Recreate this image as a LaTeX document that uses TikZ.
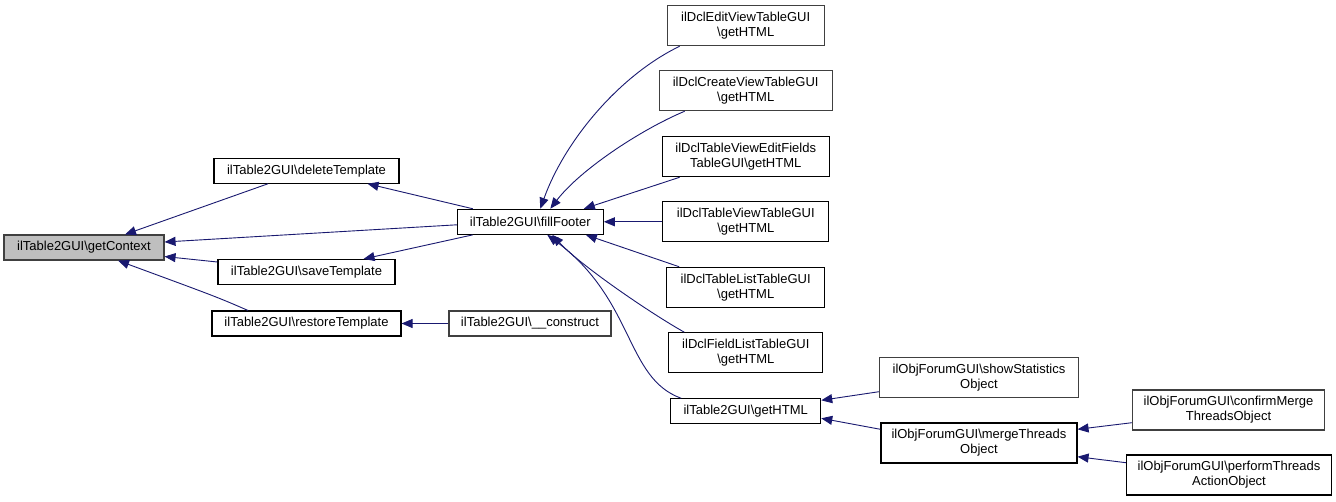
\documentclass[tikz,border=0pt]{standalone}
\usepackage{fontspec}
\setmainfont{Liberation Sans}
\usetikzlibrary{arrows.meta,calc}
\definecolor{edgeblue}{HTML}{191970}
\definecolor{nodegray}{HTML}{BFBFBF}
\definecolor{bordergray}{HTML}{404040}
\begin{document}
\begin{tikzpicture}[x=1pt,y=-1pt,
  box/.style={draw=black, line width=1.1pt, inner sep=0pt, align=center,
    font=\fontsize{13}{15}\selectfont, minimum height=25pt},
  gbox/.style={box, draw=bordergray},
  tall/.style={minimum height=40pt},
  edge/.style={draw=edgeblue, line width=0.9pt, -{Triangle[length=11pt,width=9pt]}},
]
\useasboundingbox (0,0) rectangle (1336,501);
\fill[white] (0,0) rectangle (1336,501);

% nodes
\node[gbox, fill=nodegray, minimum width=160pt] (gc) at (84,247.5) {ilTable2GUI\textbackslash getContext};
\node[box, minimum width=185pt] (del) at (306.5,170.7) {ilTable2GUI\textbackslash deleteTemplate};
\node[box, minimum width=177pt] (save) at (306.5,272) {ilTable2GUI\textbackslash saveTemplate};
\node[box, minimum width=189pt] (rest) at (306.5,323.5) {ilTable2GUI\textbackslash restoreTemplate};
\node[gbox, minimum width=162pt] (con) at (530,323.5) {ilTable2GUI\textbackslash\_\_construct};
\node[box, minimum width=146pt] (ff) at (530.3,221.8) {ilTable2GUI\textbackslash fillFooter};
\node[gbox, tall, minimum width=157pt] (edit) at (745.7,25.7) {ilDclEditViewTableGUI\\\textbackslash getHTML};
\node[gbox, tall, minimum width=173pt] (create) at (745.7,90.7) {ilDclCreateViewTableGUI\\\textbackslash getHTML};
\node[box, tall, minimum width=167pt] (tvef) at (745.7,156.7) {ilDclTableViewEditFields\\TableGUI\textbackslash getHTML};
\node[box, tall, minimum width=166pt] (tvt) at (745.8,221.8) {ilDclTableViewTableGUI\\\textbackslash getHTML};
\node[box, tall, minimum width=158pt] (tlist) at (745.7,287.3) {ilDclTableListTableGUI\\\textbackslash getHTML};
\node[box, tall, minimum width=154pt] (flist) at (745.8,352.7) {ilDclFieldListTableGUI\\\textbackslash getHTML};
\node[box, minimum width=150pt] (ghtml) at (745.7,411.3) {ilTable2GUI\textbackslash getHTML};
\node[gbox, tall, minimum width=199pt] (stat) at (979,377.7) {ilObjForumGUI\textbackslash showStatistics\\Object};
\node[box, tall, minimum width=196pt] (merge) at (979,443) {ilObjForumGUI\textbackslash mergeThreads\\Object};
\node[gbox, tall, minimum width=192pt] (confirm) at (1228.5,410) {ilObjForumGUI\textbackslash confirmMerge\\ThreadsObject};
\node[box, tall, minimum width=205pt] (perform) at (1229,475) {ilObjForumGUI\textbackslash performThreads\\ActionObject};

% edges
\draw[edge] ([xshift=-38.5pt]del.south) -- ([xshift=41pt]gc.north);
\draw[edge] ([yshift=-3pt]ff.west) -- ([yshift=5.5pt]gc.east);
\draw[edge] ([yshift=10pt]save.west) -- ([yshift=-9pt]gc.east);
\draw[edge] ([xshift=-58.5pt]rest.north) .. controls (217,297) .. ([xshift=34pt]gc.south);
\draw[edge] ([xshift=16pt]ff.north west) -- ([xshift=-32pt]del.south east);
\draw[edge] ([xshift=16pt]ff.south west) -- ([xshift=-32pt]save.north east);
\draw[edge] (con.west) -- (rest.east);
\draw[edge] ([xshift=13pt]edit.south west) .. controls (620,75) and (565,140) .. ([xshift=10pt]ff.north);
\draw[edge] ([xshift=26pt]create.south west) .. controls (640,130) and (580,170) .. ([xshift=20pt]ff.north);
\draw[edge] ([xshift=18pt]tvef.south west) -- ([xshift=-20pt]ff.north east);
\draw[edge] (tvt.west) -- (ff.east);
\draw[edge] ([xshift=13pt]tlist.north west) -- ([xshift=-18pt]ff.south east);
\draw[edge] ([xshift=16pt]flist.north west) .. controls (650,313) and (580,265) .. ([xshift=22pt]ff.south);
\draw[edge] ([xshift=11pt]ghtml.north west) .. controls (625,378) and (635,300) .. ([xshift=17pt]ff.south);
\draw[edge] ([yshift=-14pt]stat.west) -- ([yshift=11pt]ghtml.east);
\draw[edge] ([yshift=13.7pt]merge.west) -- ([yshift=-7pt]ghtml.east);
\draw[edge] ([yshift=-12.7pt]confirm.west) -- ([yshift=13.7pt]merge.east);
\draw[edge] ([yshift=12.3pt]perform.west) -- ([yshift=-13.7pt]merge.east);
\end{tikzpicture}
\end{document}
